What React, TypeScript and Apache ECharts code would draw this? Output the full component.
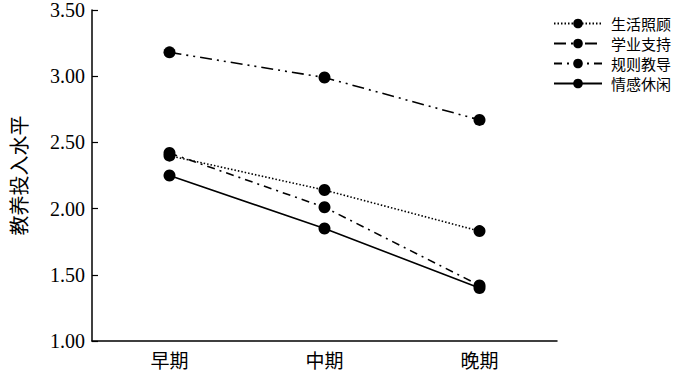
import React, { useEffect, useRef } from "react";
import * as echarts from "echarts";

const categories = ["早期", "中期", "晚期"];
const seriesNames = ["生活照顾", "学业支持", "规则教导", "情感休闲"];
const shenghuo = [2.4, 2.14, 1.83];
const xueye = [3.18, 2.99, 2.67];
const guize = [2.42, 2.01, 1.42];
const qinggan = [2.25, 1.85, 1.4];
const yTicks = [1.0, 3.5, 0.5];

const serifFont = "'Liberation Serif', 'Noto Sans CJK SC', serif";
const cjkFont = "'Noto Sans CJK SC', sans-serif";

export default function App() {
  const ref = useRef<HTMLDivElement>(null);
  useEffect(() => {
    const chart = echarts.init(ref.current!, null, { renderer: "svg" });
    const mk = (name: string, data: number[], type: any) => ({
      name,
      type: "line",
      data,
      symbol: "circle",
      symbolSize: 12,
      itemStyle: { color: "#000" },
      lineStyle: { color: "#000", width: 1.6, type },
      z: 2,
    });
    chart.setOption({
      animation: false,
      backgroundColor: "#fff",
      grid: { left: 83, right: 143, top: 10, bottom: 32, containLabel: false },
      legend: {
        orient: "vertical",
        left: 553,
        top: 16,
        padding: 0,
        itemWidth: 48,
        itemHeight: 12,
        itemGap: 5,
        data: seriesNames,
        textStyle: { fontFamily: cjkFont, fontSize: 15, color: "#000", padding: [0, 0, 0, 4] },
      },
      xAxis: {
        type: "category",
        data: categories,
        boundaryGap: true,
        axisLine: { lineStyle: { color: "#000", width: 1.5 } },
        axisTick: { inside: true, length: 6, lineStyle: { color: "#000", width: 1.2 } },
        axisLabel: { fontFamily: cjkFont, fontSize: 19, color: "#000", margin: 9 },
        splitLine: { show: false },
      },
      yAxis: {
        type: "value",
        min: yTicks[0],
        max: yTicks[1],
        interval: yTicks[2],
        name: "教养投入水平",
        nameLocation: "middle",
        nameRotate: 90,
        nameGap: 64,
        nameTextStyle: { fontFamily: cjkFont, fontSize: 20, color: "#000" },
        axisLine: { show: true, lineStyle: { color: "#000", width: 1.5 } },
        axisTick: { show: true, inside: true, length: 6, lineStyle: { color: "#000", width: 1.2 } },
        axisLabel: {
          fontFamily: serifFont,
          fontSize: 20,
          color: "#000",
          margin: 7,
          formatter: (v: number) => v.toFixed(2),
        },
        splitLine: { show: false },
      },
      series: [
        mk(seriesNames[0], shenghuo, [1.5, 2]),
        mk(seriesNames[1], xueye, [12, 5, 2, 5, 2, 5]),
        mk(seriesNames[2], guize, [8, 5, 2, 5]),
        mk(seriesNames[3], qinggan, "solid"),
      ],
    });
    return () => chart.dispose();
  }, []);
  return <div ref={ref} style={{ width: 700, height: 373, position: "absolute", left: 0, top: 0 }} />;
}
